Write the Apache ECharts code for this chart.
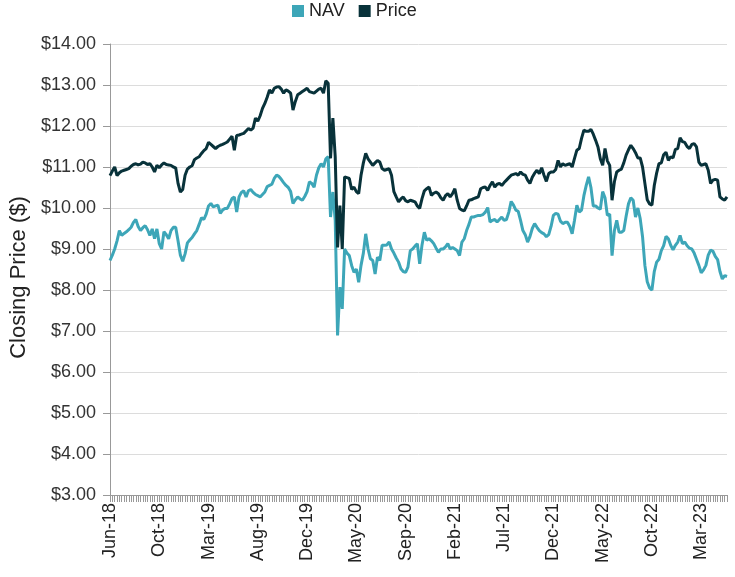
<!DOCTYPE html>
<html>
<head>
<meta charset="utf-8">
<script src="https://cdn.jsdelivr.net/npm/echarts@6/dist/echarts.min.js"></script>
<style>
html,body{margin:0;padding:0;background:#fff;}
#chart{width:735px;height:577px;}
</style>
</head>
<body>
<div id="chart"></div>
<script>
// Tick labels shown on the x axis (one every 21 weekly points)
const tickLabels = ["Jun-18","Oct-18","Mar-19","Aug-19","Dec-19","May-20","Sep-20","Feb-21","Jul-21","Dec-21","May-22","Oct-22","Mar-23"];
const pointsPerLabel = 21;

// Weekly closing NAV ($)
const navValues = [
8.72,8.85,9.0,9.2,9.45,9.33,9.38,9.42,9.47,9.53,
9.65,9.72,9.55,9.45,9.52,9.57,9.47,9.33,9.49,9.25,
9.49,9.13,9.0,9.42,9.35,9.25,9.45,9.53,9.53,9.2,
8.85,8.7,8.88,9.15,9.22,9.28,9.37,9.45,9.6,9.76,
9.72,9.85,10.05,10.11,10.03,10.05,10.07,9.87,9.95,9.99,
9.99,10.1,10.23,10.27,9.90,10.27,10.38,10.42,10.27,10.42,
10.45,10.38,10.33,10.3,10.27,10.33,10.39,10.52,10.55,10.58,
10.72,10.80,10.77,10.7,10.62,10.55,10.5,10.4,10.11,10.2,
10.27,10.22,10.19,10.28,10.4,10.64,10.6,10.51,10.8,10.98,
11.08,11.0,11.2,11.25,9.78,10.39,9.70,6.89,8.07,7.54,
9.0,8.9,8.84,8.6,8.43,8.51,8.19,8.6,8.9,9.37,
9.0,8.76,8.72,8.39,8.8,8.72,9.09,9.09,9.1,9.17,
9.0,8.9,8.78,8.68,8.52,8.45,8.43,8.56,8.96,9.0,
9.07,9.13,8.64,9.1,9.41,9.21,9.25,9.2,9.13,9.02,
8.92,9.0,9.0,9.05,9.13,9.0,9.04,9.0,8.96,8.84,
9.17,9.25,9.45,9.6,9.78,9.78,9.8,9.82,9.82,9.84,
9.9,10.01,9.66,9.7,9.72,9.66,9.72,9.78,9.70,9.72,
9.9,10.16,10.07,9.95,9.92,9.7,9.45,9.35,9.17,9.3,
9.5,9.62,9.53,9.45,9.4,9.37,9.3,9.35,9.55,9.82,
9.87,9.85,9.68,9.62,9.65,9.65,9.55,9.37,9.7,10.07,
9.9,9.95,10.3,10.55,10.76,10.5,10.05,10.05,10.0,9.97,
10.4,10.25,9.82,9.85,8.84,9.45,9.70,9.41,9.41,9.45,
9.8,10.1,10.25,10.19,9.78,10.0,9.74,9.3,8.6,8.2,
8.05,8.0,8.45,8.68,8.75,8.96,9.08,9.31,9.25,9.09,
8.98,9.09,9.17,9.33,9.13,9.17,9.08,9.02,9.0,8.9,
8.75,8.6,8.42,8.49,8.6,8.85,8.97,8.95,8.82,8.74,
8.45,8.27,8.35,8.33
];

// Weekly closing market price ($)
const priceValues = [
10.79,10.9,11.0,10.79,10.86,10.9,10.92,10.94,10.96,11.02,
11.06,11.08,11.05,11.07,11.12,11.1,11.06,11.08,11.0,10.88,
11.04,10.98,11.05,11.10,11.06,11.05,11.04,11.0,10.98,10.6,
10.39,10.45,10.8,10.95,11.0,11.03,11.18,11.22,11.25,11.33,
11.4,11.45,11.6,11.55,11.5,11.45,11.5,11.53,11.55,11.58,
11.61,11.68,11.75,11.41,11.77,11.78,11.8,11.82,11.88,11.94,
11.9,11.95,12.19,12.12,12.25,12.43,12.55,12.7,12.88,12.8,
12.92,12.95,12.96,12.9,12.8,12.88,12.85,12.8,12.39,12.6,
12.76,12.8,12.84,12.88,12.92,12.84,12.82,12.80,12.85,12.9,
12.92,12.8,13.10,13.04,11.21,12.19,11.25,9.04,10.06,9.0,
10.76,10.74,10.72,10.45,10.51,10.40,10.35,10.8,11.1,11.33,
11.2,11.12,11.04,11.1,11.16,11.12,10.96,10.92,10.94,10.96,
10.80,10.4,10.27,10.15,10.22,10.27,10.18,10.15,10.19,10.17,
10.15,10.05,9.99,10.23,10.42,10.47,10.51,10.31,10.36,10.39,
10.35,10.25,10.19,10.3,10.35,10.27,10.35,10.47,10.19,9.99,
9.95,9.93,10.05,10.19,10.2,10.23,10.25,10.27,10.47,10.5,
10.51,10.43,10.55,10.64,10.51,10.58,10.60,10.55,10.62,10.68,
10.74,10.80,10.82,10.84,10.80,10.88,10.82,10.80,10.68,10.60,
10.75,10.85,10.92,10.84,10.98,10.80,10.65,10.84,10.88,10.88,
10.94,11.16,11.0,11.08,11.04,11.06,11.08,11.0,11.21,11.41,
11.45,11.70,11.90,11.87,11.87,11.92,11.8,11.65,11.49,11.2,
11.04,11.45,11.15,11.04,10.19,10.64,10.88,10.92,10.95,11.1,
11.29,11.42,11.53,11.45,11.35,11.22,11.22,11.0,10.6,10.2,
10.1,10.07,10.55,10.85,11.08,11.1,11.3,11.36,11.16,11.25,
11.22,11.43,11.45,11.71,11.62,11.6,11.5,11.45,11.55,11.57,
11.49,11.12,11.04,11.06,11.08,10.92,10.60,10.68,10.7,10.68,
10.27,10.22,10.19,10.27
];

// Category per weekly point: labelled points carry the tick label
const categories = navValues.map(function (v, i) {
  const k = Math.floor(i / pointsPerLabel);
  return i % pointsPerLabel === 0 ? tickLabels[k] : tickLabels[k] + ' w' + (i % pointsPerLabel);
});

const chart = echarts.init(document.getElementById('chart'), null, {renderer: 'canvas'});
chart.setOption({
  animation: false,
  textStyle: {fontFamily: 'Liberation Sans, Arial, sans-serif'},
  legend: {
    top: 2,
    left: 292,
    padding: 0,
    icon: 'rect',
    itemWidth: 12,
    itemHeight: 12,
    itemGap: 14,
    textStyle: {fontSize: 18, color: '#222'},
    data: ['NAV', 'Price']
  },
  grid: {left: 106, right: 8, top: 44, bottom: 82, containLabel: false},
  xAxis: {
    type: 'category',
    boundaryGap: false,
    data: categories,
    axisLine: {lineStyle: {color: '#999', width: 1}},
    axisTick: {show: true, interval: 0, length: 7, lineStyle: {color: '#999'}},
    axisLabel: {interval: pointsPerLabel - 1, rotate: 90, fontSize: 18, color: '#222', margin: 8},
    splitLine: {show: false}
  },
  yAxis: {
    type: 'value',
    min: 3,
    max: 14,
    interval: 1,
    name: 'Closing Price ($)',
    nameLocation: 'middle',
    nameGap: 80,
    nameTextStyle: {fontSize: 22, color: '#222', padding: [0, 16, 0, 0]},
    axisLine: {show: true, lineStyle: {color: '#999'}},
    axisTick: {show: true, length: 7, lineStyle: {color: '#999'}},
    axisLabel: {fontSize: 18, color: '#333', margin: 14, formatter: function (v) { return '$' + v.toFixed(2); }},
    splitLine: {lineStyle: {color: '#dcdcdc', width: 1}}
  },
  series: [
    {name: 'NAV', type: 'line', data: navValues, showSymbol: false, color: '#3da6b8', lineStyle: {width: 3, color: '#3da6b8'}},
    {name: 'Price', type: 'line', data: priceValues, showSymbol: false, color: '#08323a', lineStyle: {width: 3, color: '#08323a'}}
  ]
});
</script>
</body>
</html>
